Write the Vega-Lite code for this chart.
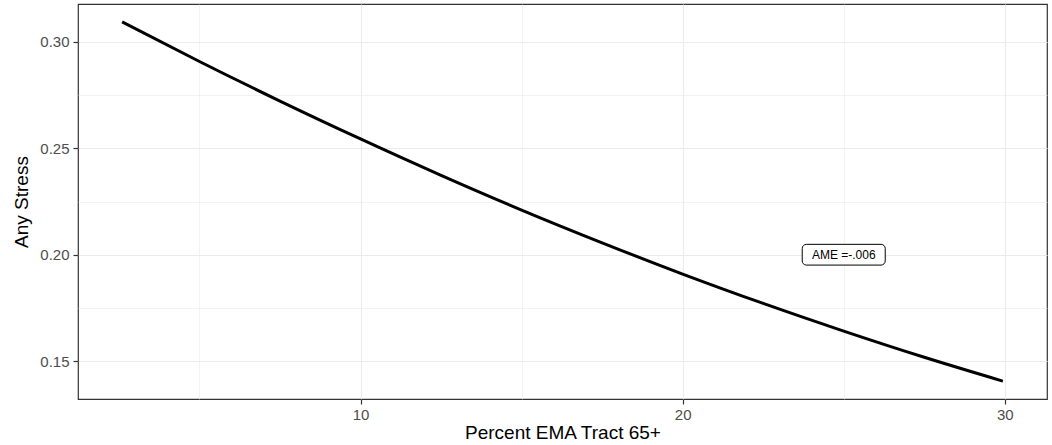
{
  "$schema": "https://vega.github.io/schema/vega-lite/v6.json",
  "width": 969,
  "height": 395,
  "padding": {"left": 78, "top": 4, "right": 5, "bottom": 46},
  "autosize": {"type": "none"},
  "background": "white",
  "config": {
    "font": "Liberation Sans",
    "view": {"stroke": "#333333", "strokeWidth": 1.2},
    "axis": {
      "domain": false,
      "gridColor": "#ebebeb",
      "labelColor": "#4d4d4d",
      "labelFontSize": 15,
      "titleFontSize": 19,
      "titleFontWeight": "normal",
      "titleColor": "black",
      "tickColor": "#333333",
      "tickSize": 5,
      "tickWidth": 1.2
    }
  },
  "datasets": {
    "curve": [
      {"pct": 2.6, "stress": 0.3094},
      {"pct": 5, "stress": 0.2908},
      {"pct": 7.5, "stress": 0.2722},
      {"pct": 10, "stress": 0.2544},
      {"pct": 12.5, "stress": 0.2373},
      {"pct": 15, "stress": 0.2210},
      {"pct": 17.5, "stress": 0.2056},
      {"pct": 20, "stress": 0.1909},
      {"pct": 22.5, "stress": 0.1771},
      {"pct": 25, "stress": 0.1641},
      {"pct": 27.5, "stress": 0.1518},
      {"pct": 29.94, "stress": 0.1406}
    ],
    "note": [
      {"pct": 25, "stress": 0.2, "label": "AME =-.006"}
    ]
  },
  "layer": [
    {
      "data": {"name": "curve"},
      "mark": {"type": "line", "color": "black", "strokeWidth": 3, "interpolate": "monotone"},
      "encoding": {
        "x": {
          "field": "pct", "type": "quantitative",
          "scale": {"domain": [1.23, 31.31], "nice": false, "zero": false},
          "axis": {
            "title": "Percent EMA Tract 65+",
            "values": [5, 10, 15, 20, 25, 30],
            "labelExpr": "datum.value % 10 === 0 ? datum.label : ''",
            "gridWidth": {"condition": {"test": "datum.value % 10 === 0", "value": 1.1}, "value": 0.6},
            "tickOpacity": {"condition": {"test": "datum.value % 10 === 0", "value": 1}, "value": 0},
            "labelPadding": 3,
            "titlePadding": 1
          }
        },
        "y": {
          "field": "stress", "type": "quantitative",
          "scale": {"domain": [0.1322, 0.3178], "nice": false, "zero": false},
          "axis": {
            "title": "Any Stress",
            "values": [0.15, 0.175, 0.2, 0.225, 0.25, 0.275, 0.3],
            "format": ".2f",
            "labelExpr": "abs(datum.value * 20 - round(datum.value * 20)) < 0.001 ? datum.label : ''",
            "gridWidth": {"condition": {"test": "abs(datum.value * 20 - round(datum.value * 20)) < 0.001", "value": 1.1}, "value": 0.6},
            "tickOpacity": {"condition": {"test": "abs(datum.value * 20 - round(datum.value * 20)) < 0.001", "value": 1}, "value": 0},
            "labelPadding": 4,
            "titlePadding": 8
          }
        }
      }
    },
    {
      "data": {"name": "note"},
      "mark": {
        "type": "point",
        "shape": "M -0.9,-0.25 L 0.9,-0.25 A 0.1,0.1 0 0 1 1,-0.15 L 1,0.15 A 0.1,0.1 0 0 1 0.9,0.25 L -0.9,0.25 A 0.1,0.1 0 0 1 -1,0.15 L -1,-0.15 A 0.1,0.1 0 0 1 -0.9,-0.25 Z",
        "size": 6889,
        "filled": true,
        "fill": "white",
        "stroke": "black",
        "strokeWidth": 1,
        "opacity": 1
      },
      "encoding": {
        "x": {"field": "pct", "type": "quantitative"},
        "y": {"field": "stress", "type": "quantitative"}
      }
    },
    {
      "data": {"name": "note"},
      "mark": {"type": "text", "fontSize": 12, "color": "black", "align": "center", "baseline": "middle"},
      "encoding": {
        "x": {"field": "pct", "type": "quantitative"},
        "y": {"field": "stress", "type": "quantitative"},
        "text": {"field": "label"}
      }
    }
  ]
}
